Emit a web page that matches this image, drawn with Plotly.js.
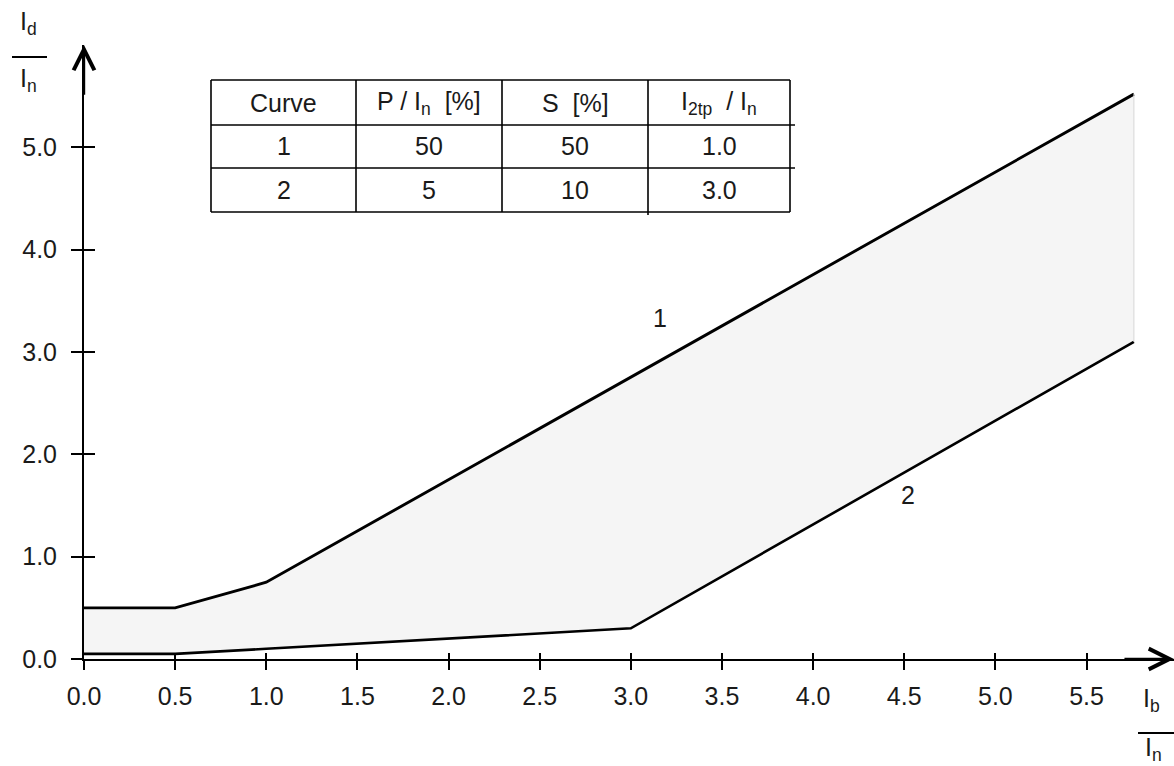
<!DOCTYPE html>
<html><head><meta charset="utf-8">
<script src="https://cdn.plot.ly/plotly-3.0.1.min.js"></script>
<style>html,body{margin:0;padding:0;background:#fff}</style></head>
<body><div id="chart" style="width:1174px;height:766px"></div>
<script>
// ---- data ----
const curve1X = [0, 0.5, 1.0, 5.76];
const curve1Y = [0.5, 0.5, 0.75, 5.52];
const curve2X = [0, 0.5, 1.0, 3.0, 5.76];
const curve2Y = [0.05, 0.05, 0.1, 0.3, 3.1];
const xTickVals = [0, 0.5, 1.0, 1.5, 2.0, 2.5, 3.0, 3.5, 4.0, 4.5, 5.0, 5.5];
const xTickText = ['0.0','0.5','1.0','1.5','2.0','2.5','3.0','3.5','4.0','4.5','5.0','5.5'];
const yTickVals = [0, 1, 2, 3, 4, 5];
const yTickText = ['0.0','1.0','2.0','3.0','4.0','5.0'];
const curveLabelText = ['1', '2'];
const curveLabelX = [3.16, 4.52];
const curveLabelY = [3.33, 1.6];
const tableHeader = ['Curve', 'P / I<sub>n</sub>  [%]', 'S  [%]', 'I<sub>2tp</sub>  / I<sub>n</sub>'];
const tableCurve = ['1', '2'];
const tableP = ['50', '5'];
const tableS = ['50', '10'];
const tableI2tp = ['1.0', '3.0'];

// ---- layout helpers (pixel -> paper) ----
const W = 1174, H = 766, ML = 84, MR = 0, MT = 45, MB = 107;
const PW = W - ML - MR, PH = H - MT - MB;
const px = x => (x - ML) / PW;
const py = y => (H - MB - y) / PH;
const FONT = 'Liberation Sans, Arial, sans-serif';
const INK = '#1a1a1a';
const FS = 25;

const traces = [
  {x: curve2X, y: curve2Y, mode: 'lines', line: {color: '#000', width: 2.6}, cliponaxis: false, hoverinfo: 'skip', showlegend: false},
  {x: curve1X, y: curve1Y, mode: 'lines', fill: 'tonexty', fillcolor: '#f5f5f5', line: {color: '#000', width: 2.9}, cliponaxis: false, hoverinfo: 'skip', showlegend: false},
  {x: [curve1X[curve1X.length-1], curve2X[curve2X.length-1]], y: [curve1Y[curve1Y.length-1], curve2Y[curve2Y.length-1]], mode: 'lines', line: {color: '#d6d6d6', width: 1}, hoverinfo: 'skip', showlegend: false},
  {x: [null], y: [null], xaxis: 'x2', yaxis: 'y2', mode: 'lines', hoverinfo: 'skip', showlegend: false}
];

const shapes = [];
const annotations = [];
// table grid
const colX = [211, 356, 502, 648, 790];
const rowY = [80, 125, 168, 212];
rowY.forEach((y, i) => shapes.push({type: 'line', xref: 'paper', yref: 'paper', x0: px(colX[0]), x1: px(colX[4] + ((i === 1 || i === 2) ? 5 : 0)), y0: py(y), y1: py(y), line: {color: '#000', width: 1.6}}));
colX.forEach((x, i) => shapes.push({type: 'line', xref: 'paper', yref: 'paper', x0: px(x), x1: px(x), y0: py(rowY[0]), y1: py(rowY[3] + (i === 3 ? 3 : 0)), line: {color: '#000', width: 1.6}}));
const tableRows = [tableHeader, [tableCurve[0], tableP[0], tableS[0], tableI2tp[0]], [tableCurve[1], tableP[1], tableS[1], tableI2tp[1]]];
tableRows.forEach((row, r) => row.forEach((txt, c) => annotations.push({
  xref: 'paper', yref: 'paper', x: px((colX[c] + colX[c+1]) / 2), y: py((rowY[r] + rowY[r+1]) / 2),
  text: txt, showarrow: false, xanchor: 'center', yanchor: 'middle', font: {family: FONT, size: FS, color: INK}
})));
// curve labels
curveLabelText.forEach((t, i) => annotations.push({x: curveLabelX[i], y: curveLabelY[i], text: t, showarrow: false, font: {family: FONT, size: FS, color: INK}}));
// axis arrows
annotations.push({x: 0, y: 6.0, ax: 0, ay: 5.5, axref: 'x', ayref: 'y', text: '', showarrow: true, arrowhead: 5, arrowsize: 1.7, arrowwidth: 2.4, arrowcolor: '#000'});
annotations.push({x: 5.98, y: 0, ax: 5.7, ay: 0, axref: 'x', ayref: 'y', text: '', showarrow: true, arrowhead: 5, arrowsize: 1.7, arrowwidth: 2.4, arrowcolor: '#000'});
// axis titles (fractions)
annotations.push({xref: 'paper', yref: 'paper', x: px(28), y: py(23), text: 'I<sub>d</sub>', showarrow: false, xanchor: 'center', yanchor: 'middle', font: {family: FONT, size: FS, color: INK}});
annotations.push({xref: 'paper', yref: 'paper', x: px(28), y: py(80), text: 'I<sub>n</sub>', showarrow: false, xanchor: 'center', yanchor: 'middle', font: {family: FONT, size: FS, color: INK}});
shapes.push({type: 'line', xref: 'paper', yref: 'paper', x0: px(12), x1: px(47), y0: py(57), y1: py(57), line: {color: '#000', width: 2}});
annotations.push({xref: 'paper', yref: 'paper', x: px(1151), y: py(700), text: 'I<sub>b</sub>', showarrow: false, xanchor: 'center', yanchor: 'middle', font: {family: FONT, size: FS, color: INK}});
annotations.push({xref: 'paper', yref: 'paper', x: px(1153), y: py(749), text: 'I<sub>n</sub>', showarrow: false, xanchor: 'center', yanchor: 'middle', font: {family: FONT, size: FS, color: INK}});
shapes.push({type: 'line', xref: 'paper', yref: 'paper', x0: px(1138), x1: px(1174), y0: py(733), y1: py(733), line: {color: '#000', width: 2}});

const axBase = {showgrid: false, zeroline: false, showline: true, linecolor: '#000', linewidth: 2, tickcolor: '#000', tickwidth: 2, fixedrange: true};
const layout = {
  width: W, height: H, margin: {l: ML, r: MR, t: MT, b: MB, pad: 0},
  paper_bgcolor: '#fff', plot_bgcolor: 'rgba(0,0,0,0)',
  font: {family: FONT, size: FS, color: INK},
  xaxis: Object.assign({}, axBase, {range: [0, 5.98], tickmode: 'array', tickvals: xTickVals, ticktext: xTickText, ticks: 'outside', ticklen: 9, ticklabelstandoff: 5, tickfont: {family: FONT, size: FS, color: INK}}),
  yaxis: Object.assign({}, axBase, {range: [0, 6.0], tickmode: 'array', tickvals: yTickVals, ticktext: yTickText, ticks: 'outside', ticklen: 11, ticklabelstandoff: 9, tickfont: {family: FONT, size: FS, color: INK}}),
  xaxis2: Object.assign({}, axBase, {overlaying: 'x', anchor: 'y2', range: [0, 5.98], tickmode: 'array', tickvals: xTickVals, ticks: 'inside', ticklen: 6, showticklabels: false, showline: false}),
  yaxis2: Object.assign({}, axBase, {overlaying: 'y', anchor: 'x2', range: [0, 6.0], tickmode: 'array', tickvals: yTickVals, ticks: 'inside', ticklen: 11, showticklabels: false, showline: false}),
  shapes: shapes,
  annotations: annotations
};
Plotly.newPlot('chart', traces, layout, {displayModeBar: false, staticPlot: true});
</script></body></html>
